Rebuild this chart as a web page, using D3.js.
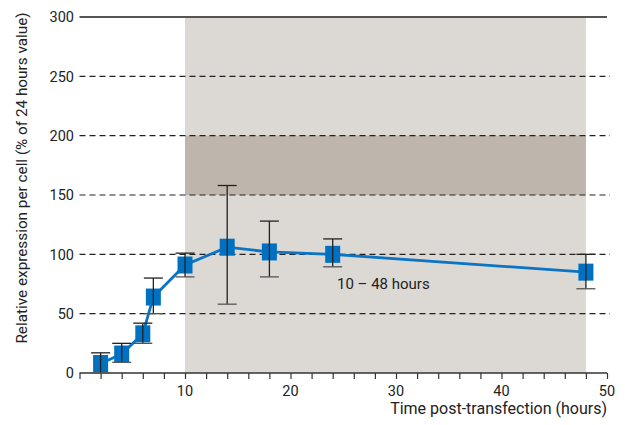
<!DOCTYPE html>
<html><head><meta charset="utf-8">
<script src="https://cdn.jsdelivr.net/npm/d3@7"></script>
<style>body{margin:0;background:#fff}svg{display:block}text{font-family:Roboto,"DejaVu Sans",sans-serif;fill:#222}</style>
</head><body><div id="chart"></div>
<script>
const hours = [2, 4, 6, 7, 10, 14, 18, 24, 48];
const expression = [8, 16, 33, 64, 91, 106, 102, 100, 85];
const errLow = [0, 9, 25, 50, 81, 58, 81, 89.5, 71];
const errHigh = [17, 25, 42, 80, 101, 158, 128, 113, 100];
const yTicks = [0, 50, 100, 150, 200, 250, 300];
const xLabelTicks = [10, 20, 30, 40, 50];
const windowRange = [10, 48];
const bandRange = [150, 200];
const windowLabel = "10 – 48 hours";
const xTitle = "Time post-transfection (hours)";
const yTitle = "Relative expression per cell (% of 24 hours value)";

const W = 625, H = 425;
const svg = d3.select("#chart").append("svg").attr("width", W).attr("height", H);
const x = d3.scaleLinear().domain([0, 50]).range([79.5, 607]);
const y = d3.scaleLinear().domain([0, 300]).range([373, 17]);

// shaded window
svg.append("rect").attr("x", x(windowRange[0])).attr("y", y(300))
  .attr("width", x(windowRange[1]) - x(windowRange[0])).attr("height", y(0) - y(300))
  .attr("fill", "#dcd8d3");
svg.append("rect").attr("x", x(windowRange[0])).attr("y", y(bandRange[1]))
  .attr("width", x(windowRange[1]) - x(windowRange[0])).attr("height", y(bandRange[0]) - y(bandRange[1]))
  .attr("fill", "#beb5ad");

// grid lines
svg.append("g").selectAll("line").data(yTicks.filter(d => d > 0 && d < 300)).join("line")
  .attr("x1", x(0)).attr("x2", 610).attr("y1", d => y(d)).attr("y2", d => y(d))
  .attr("stroke", "#222").attr("stroke-width", 1.2).attr("stroke-dasharray", "6,4");
svg.append("line").attr("x1", x(0)).attr("x2", x(50)).attr("y1", y(300)).attr("y2", y(300))
  .attr("stroke", "#555").attr("stroke-width", 2);

// y labels
svg.append("g").selectAll("text").data(yTicks).join("text")
  .attr("x", 74).attr("y", d => y(d)).attr("dy", "0.36em").attr("text-anchor", "end")
  .attr("font-size", 14.5).text(d => d);

// x axis
const xAxis = d3.axisBottom(x).tickValues(d3.range(0, 51, 2)).tickSize(6).tickFormat("");
const gx = svg.append("g").attr("transform", `translate(0,${y(0)})`).call(xAxis);
gx.select(".domain").attr("stroke", "#333").attr("stroke-width", 1.5).attr("d", `M${x(0)},0H${x(50)}`);
gx.selectAll(".tick line").attr("stroke", "#333").attr("stroke-width", 1.2);
svg.append("g").selectAll("text").data(xLabelTicks).join("text")
  .attr("x", d => x(d)).attr("y", 396).attr("text-anchor", "middle").attr("font-size", 14.5).text(d => d);

// titles
svg.append("text").attr("x", 607).attr("y", 414).attr("text-anchor", "end").attr("font-size", 16).text(xTitle);
svg.append("text").attr("transform", `translate(27,178) rotate(-90)`).attr("text-anchor", "middle")
  .attr("font-size", 15.3).text(yTitle);
svg.append("text").attr("x", 337).attr("y", 289).attr("font-size", 15).text(windowLabel);

// line
const pts = hours.map((h, i) => [h, expression[i]]);
svg.append("path").datum(pts).attr("fill", "none").attr("stroke", "#0b74c4").attr("stroke-width", 2.8)
  .attr("d", d3.line().x(d => x(d[0])).y(d => y(d[1])));

// markers
svg.append("g").selectAll("rect").data(pts).join("rect")
  .attr("x", d => x(d[0]) - 7.5).attr("y", d => y(d[1]) - 8.5).attr("width", 15).attr("height", 17)
  .attr("fill", "#0070c0");

// error bars
const eb = svg.append("g").attr("stroke", "#222").attr("stroke-width", 1.3);
hours.forEach((h, i) => {
  const cx = x(h);
  eb.append("line").attr("x1", cx).attr("x2", cx).attr("y1", y(errLow[i])).attr("y2", y(errHigh[i]));
  eb.append("line").attr("x1", cx - 9.5).attr("x2", cx + 9.5).attr("y1", y(errLow[i])).attr("y2", y(errLow[i])).attr("stroke", "#555");
  eb.append("line").attr("x1", cx - 9.5).attr("x2", cx + 9.5).attr("y1", y(errHigh[i])).attr("y2", y(errHigh[i]));
});
</script></body></html>
